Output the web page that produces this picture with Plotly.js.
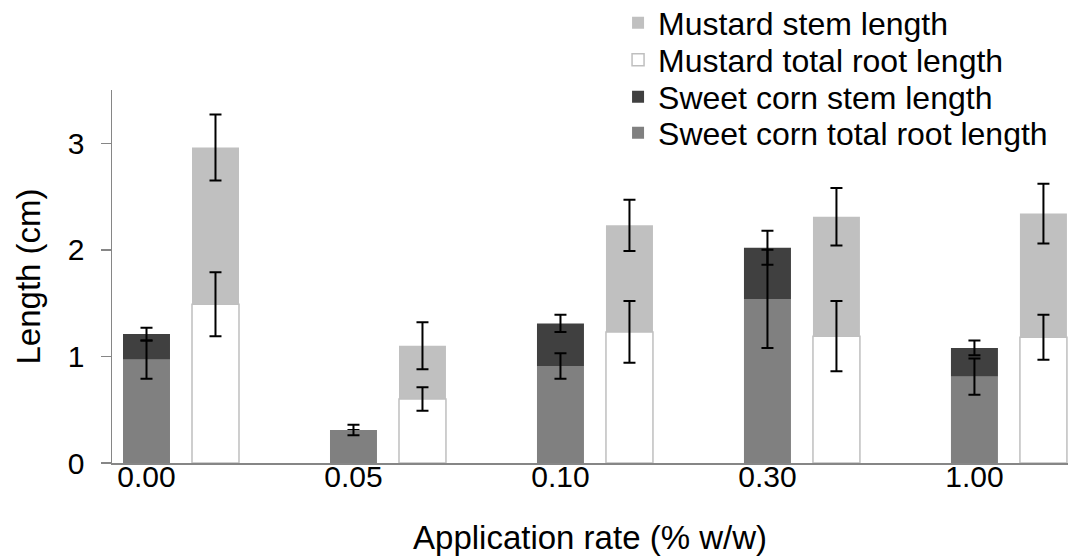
<!DOCTYPE html>
<html>
<head>
<meta charset="utf-8">
<script src="https://cdn.plot.ly/plotly-3.0.1.min.js"></script>
<style>
  html, body { margin: 0; padding: 0; background: #ffffff; }
  #chart { width: 1068px; height: 559px; }
</style>
</head>
<body>
<div id="chart"></div>
<script>
// Application rates (% w/w)
const categories = ['0.00', '0.05', '0.10', '0.30', '1.00'];

// Sweet corn (cm)
const cornRoot = [0.97, 0.31, 0.91, 1.54, 0.81];
const cornRootErr = [0.18, 0.05, 0.12, 0.46, 0.17];
const cornStem = [0.24, 0.00, 0.40, 0.48, 0.27];
const cornStemErr = [0.06, 0.00, 0.08, 0.16, 0.07];

// Mustard (cm)
const mustardRoot = [1.49, 0.60, 1.23, 1.19, 1.18];
const mustardRootErr = [0.30, 0.11, 0.29, 0.33, 0.21];
const mustardStem = [1.47, 0.50, 1.00, 1.12, 1.16];
const mustardStemErr = [0.31, 0.22, 0.24, 0.27, 0.28];

const FONT = 'Liberation Sans, Arial, sans-serif';
const AXIS_GREY = '#868686';
const TICK_SIZE = 30;
const TITLE_SIZE = 33;
const LEGEND_SIZE = 32;

// bar geometry in category units: corn sits on the tick, mustard to its right
const BAR_W = 0.227;
const CORN_OFF = -BAR_W / 2;
const MUSTARD_OFF = 1 / 3 - BAR_W / 2;

function errBar(vals) {
  return { type: 'data', array: vals, visible: true, color: '#000000', thickness: 2, width: 6 };
}

// stem segments are drawn first so the root error bars stay visible on top
const traces = [
  {
    type: 'bar', name: 'Mustard stem length', legend: 'legend',
    x: categories, y: mustardStem, base: mustardRoot,
    width: BAR_W, offset: MUSTARD_OFF,
    marker: { color: '#c0c0c0', line: { width: 0 } },
    error_y: errBar(mustardStemErr)
  },
  {
    type: 'bar', name: 'Sweet corn stem length', legend: 'legend3',
    x: categories, y: cornStem, base: cornRoot,
    width: BAR_W, offset: CORN_OFF,
    marker: { color: '#404040', line: { width: 0 } },
    error_y: errBar(cornStemErr)
  },
  {
    type: 'bar', name: 'Mustard total root length', legend: 'legend2',
    x: categories, y: mustardRoot,
    width: BAR_W, offset: MUSTARD_OFF,
    marker: { color: '#ffffff', line: { color: '#bfbfbf', width: 1.5 } },
    error_y: errBar(mustardRootErr)
  },
  {
    type: 'bar', name: 'Sweet corn total root length', legend: 'legend4',
    x: categories, y: cornRoot,
    width: BAR_W, offset: CORN_OFF,
    marker: { color: '#808080', line: { width: 0 } },
    error_y: errBar(cornRootErr)
  }
];

// one legend per row so the rows sit closer than the default line spacing
function legendRow(rowY) {
  return {
    xref: 'container', yref: 'container',
    x: 0.5787, y: rowY, xanchor: 'left', yanchor: 'middle',
    bgcolor: 'rgba(0,0,0,0)', borderwidth: 0,
    font: { family: FONT, size: LEGEND_SIZE, color: '#000000' }
  };
}

const layout = {
  width: 1068,
  height: 559,
  paper_bgcolor: '#ffffff',
  plot_bgcolor: '#ffffff',
  margin: { l: 112, r: 0, t: 90, b: 96, pad: 0, autoexpand: false },
  font: { family: FONT, size: TICK_SIZE, color: '#000000' },
  barmode: 'overlay',
  showlegend: true,
  legend: legendRow(1 - 23 / 559),
  legend2: legendRow(1 - 60 / 559),
  legend3: legendRow(1 - 97 / 559),
  legend4: legendRow(1 - 133 / 559),
  xaxis: {
    type: 'category',
    range: [-1 / 6, 4.452],
    showline: true, linecolor: AXIS_GREY, linewidth: 1.5,
    showgrid: false, zeroline: false,
    ticks: '',
    ticklabelstandoff: -14,
    automargin: false,
    tickfont: { family: FONT, size: TICK_SIZE, color: '#000000' },
    title: { text: 'Application rate (% w/w)', font: { family: FONT, size: TITLE_SIZE, color: '#000000' }, standoff: 34 }
  },
  yaxis: {
    range: [0, 3.5],
    tickvals: [0, 1, 2, 3],
    ticktext: ['0', '1', '2', '3'],
    showline: true, linecolor: AXIS_GREY, linewidth: 1.5,
    ticks: 'outside', ticklen: 10, tickcolor: AXIS_GREY, tickwidth: 1.5,
    ticklabelstandoff: 10,
    showgrid: false, zeroline: false,
    automargin: false,
    tickfont: { family: FONT, size: TICK_SIZE, color: '#000000' },
    title: { text: 'Length (cm)', font: { family: FONT, size: TITLE_SIZE, color: '#000000' }, standoff: 17 }
  }
};

Plotly.newPlot('chart', traces, layout, { staticPlot: true, displayModeBar: false });
</script>
</body>
</html>
